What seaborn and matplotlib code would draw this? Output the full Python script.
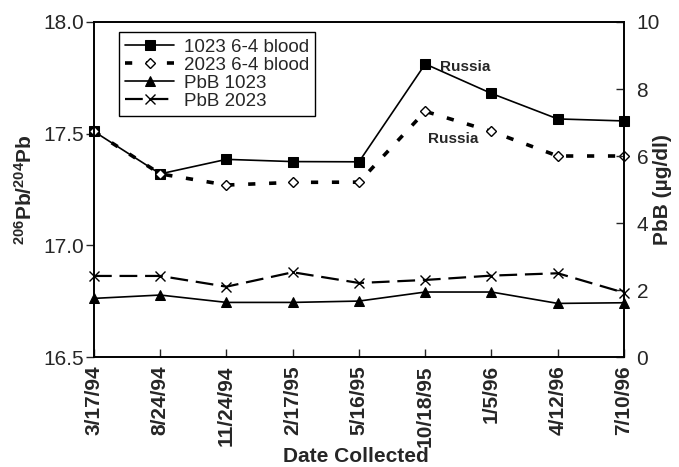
import matplotlib
matplotlib.use("Agg")
import matplotlib.pyplot as plt
import seaborn as sns
import pandas as pd

dates = ["3/17/94", "8/24/94", "11/24/94", "2/17/95", "5/16/95",
         "10/18/95", "1/5/96", "4/12/96", "7/10/96"]
ratio_1023 = [17.51, 17.32, 17.385, 17.375, 17.374, 17.812, 17.68, 17.566, 17.557]
ratio_2023 = [17.51, 17.32, 17.27, 17.282, 17.283, 17.60, 17.51, 17.40, 17.40]
pbb_1023 = [1.75, 1.85, 1.63, 1.63, 1.67, 1.94, 1.94, 1.60, 1.62]
pbb_2023 = [2.42, 2.42, 2.10, 2.53, 2.21, 2.30, 2.43, 2.50, 1.92]
left_ticks = [16.5, 17.0, 17.5, 18.0]
right_ticks = [0, 2, 4, 6, 8, 10]

sns.set_style("ticks")
plt.rcParams["font.family"] = ["Liberation Sans", "DejaVu Sans"]
plt.rcParams["mathtext.fontset"] = "custom"
plt.rcParams["mathtext.rm"] = "Liberation Sans"
plt.rcParams["mathtext.bf"] = "Liberation Sans:bold"

df = pd.DataFrame({"date": dates, "r1023": ratio_1023, "r2023": ratio_2023,
                   "p1023": pbb_1023, "p2023": pbb_2023})

fig = plt.figure(figsize=(6.79, 4.67), dpi=100)
ax = fig.add_axes([0.1384, 0.2355, 0.9190 - 0.1384, 0.9529 - 0.2355])
ax2 = ax.twinx()

sns.lineplot(data=df, x="date", y="r1023", ax=ax, color="black", lw=1.2,
             marker="s", markersize=7.5, markeredgecolor="black",
             markerfacecolor="black", sort=False, label="1023 6-4 blood",
             legend=False, clip_on=False)
sns.lineplot(data=df, x="date", y="r2023", ax=ax, color="black", lw=2.6,
             dashes=False, marker="D", markersize=5.5, markeredgecolor="black",
             markeredgewidth=1.0, markerfacecolor="white", sort=False,
             label="2023 6-4 blood", legend=False, clip_on=False)
ax.lines[-1].set_dashes((2.0, 3.8))
sns.lineplot(data=df, x="date", y="p1023", ax=ax2, color="black", lw=1.2,
             marker="^", markersize=7, markeredgecolor="black",
             markerfacecolor="black", sort=False, label="PbB 1023",
             legend=False, clip_on=False)
sns.lineplot(data=df, x="date", y="p2023", ax=ax2, color="black", lw=1.6,
             marker="x", markersize=7, markeredgewidth=1.0,
             markeredgecolor="black", sort=False, label="PbB 2023",
             legend=False, clip_on=False)
ax2.lines[-1].set_dashes((8, 3.5))

ax.set_xlim(0, len(dates) - 1)
ax.set_ylim(16.5, 18.0)
ax2.set_ylim(0, 10)
ax.set_yticks(left_ticks)
ax.set_yticklabels([f"{v:.1f}" for v in left_ticks], fontsize=15)
ax2.set_yticks(right_ticks)
ax2.set_yticklabels([str(v) for v in right_ticks], fontsize=15)
ax.set_xticks(range(len(dates)))
ax.set_xticklabels(dates, rotation=90, fontsize=15, fontweight="bold")

ax.tick_params(axis="y", direction="out", length=6, width=1, pad=1)
ax.tick_params(axis="x", direction="in", length=6, width=1, pad=6)
ax2.tick_params(axis="y", direction="in", length=6, width=1, pad=9)

for a in (ax, ax2):
    for s in a.spines.values():
        s.set_linewidth(1.2)
        s.set_color("black")

ax.set_xlabel("Date Collected", fontsize=15, fontweight="bold")
ax.xaxis.set_label_coords(0.495, -0.3134)
ax.xaxis.label.set_verticalalignment("baseline")
ax.set_ylabel(r"$\mathbf{^{206}Pb/^{204}Pb}$", fontsize=15)
ax2.set_ylabel("PbB (µg/dl)", fontsize=15, fontweight="bold")
ax.yaxis.set_label_coords(-0.130, 0.5)
ax2.yaxis.set_label_coords(1.0717, 0.5)
ax.yaxis.label.set_verticalalignment("center")
ax2.yaxis.label.set_verticalalignment("center")
ax.yaxis.label.set_rotation_mode("anchor")
ax2.yaxis.label.set_rotation_mode("anchor")

ax.text(5.22, 17.80, "Russia", fontsize=11, fontweight="bold", ha="left", va="center")
ax.text(5.04, 17.476, "Russia", fontsize=11, fontweight="bold", ha="left", va="center")

handles = ax.lines[:2] + ax2.lines[:2]
labels = ["1023 6-4 blood", "2023 6-4 blood", "PbB 1023", "PbB 2023"]
leg = ax2.legend(handles, labels, loc="upper left", bbox_to_anchor=(0.047, 0.970),
                 borderaxespad=0, fontsize=13.5, frameon=True, fancybox=False,
                 edgecolor="black", framealpha=1, handlelength=2.6,
                 labelspacing=0.05, borderpad=0.35, handletextpad=0.5)
leg.get_frame().set_linewidth(1.0)

fig.savefig("out.png", dpi=100)
